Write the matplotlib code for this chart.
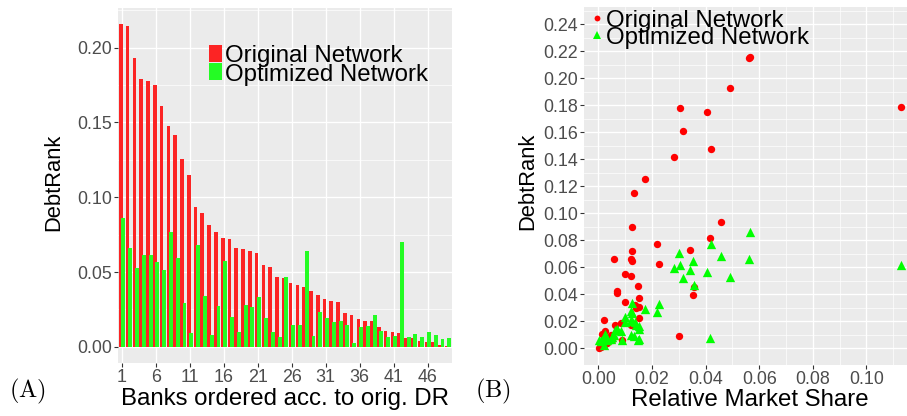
import matplotlib
matplotlib.use('Agg')
import matplotlib.pyplot as plt
import numpy as np
from matplotlib.patches import Rectangle

plt.rcParams['font.family'] = ['Liberation Sans', 'DejaVu Sans']
plt.rcParams['mathtext.fontset'] = 'cm'

# ---------------- data ----------------
banks = list(range(1, 50))
dr_original = [0.2157, 0.2148, 0.1929, 0.1789, 0.1775, 0.1749, 0.1609, 0.1476, 0.1416, 0.1256,
               0.1150, 0.0937, 0.0897, 0.0817, 0.0770, 0.0730, 0.0723, 0.0663, 0.0657, 0.0644,
               0.0624, 0.0550, 0.0537, 0.0464, 0.0457, 0.0424, 0.0411, 0.0397, 0.0371, 0.0344,
               0.0317, 0.0304, 0.0297, 0.0224, 0.0211, 0.0184, 0.0171, 0.0171, 0.0131, 0.0104,
               0.0098, 0.0091, 0.0058, 0.0058, 0.0038, 0.0031, 0.0031, 0.0011, 0.0004]
dr_optimized = [0.0863, 0.0664, 0.0530, 0.0617, 0.0617, 0.0564, 0.0517, 0.0770, 0.0593, 0.0291,
                0.0091, 0.0684, 0.0337, 0.0078, 0.0271, 0.0577, 0.0198, 0.0098, 0.0277, 0.0264,
                0.0331, 0.0191, 0.0098, 0.0064, 0.0470, 0.0144, 0.0144, 0.0644, 0.0071, 0.0231,
                0.0191, 0.0164, 0.0171, 0.0144, 0.0024, 0.0131, 0.0138, 0.0211, 0.0104, 0.0064,
                0.0071, 0.0703, 0.0064, 0.0084, 0.0064, 0.0098, 0.0078, 0.0051, 0.0058]
market_share = [0.0565, 0.0560, 0.0491, 0.1129, 0.0305, 0.0404, 0.0317, 0.0421, 0.0283, 0.0175,
                0.0133, 0.0458, 0.0124, 0.0415, 0.0218, 0.0342, 0.0125, 0.0057, 0.0121, 0.0124,
                0.0227, 0.0098, 0.0123, 0.0148, 0.0358, 0.0069, 0.0071, 0.0352, 0.0150, 0.0100,
                0.0138, 0.0150, 0.0140, 0.0150, 0.0022, 0.0085, 0.0063, 0.0120, 0.0026, 0.0014,
                0.0045, 0.0300, 0.0086, 0.0050, 0.0030, 0.0026, 0.0020, 0.0010, 0.0002]
bank_ticks = [1, 6, 11, 16, 21, 26, 31, 36, 41, 46]
left_yticks = [0.00, 0.05, 0.10, 0.15, 0.20]
right_xticks = [0.00, 0.02, 0.04, 0.06, 0.08, 0.10]
right_yticks = [0.00, 0.02, 0.04, 0.06, 0.08, 0.10, 0.12, 0.14, 0.16, 0.18, 0.20, 0.22, 0.24]
series_labels = ['Original Network', 'Optimized Network']

# ---------------- style ----------------
W, H = 907, 416
BG = '#EBEBEB'
RED_BAR, GREEN_BAR = '#FC2424', '#24FC24'
RED_PT, GREEN_PT = '#FF0000', '#00FF00'
TICK_COL, LAB_COL = '#333333', '#4D4D4D'
TICK_FS, XT_FS, YT_FS, LEG_FS = 12.9, 17.3, 15.8, 17.3

fig = plt.figure(figsize=(W / 100, H / 100), dpi=100)


def px_axes(l, t, r, b):
    return fig.add_axes([l / W, 1 - b / H, (r - l) / W, (b - t) / H])


def style(ax):
    ax.set_facecolor(BG)
    for s in ax.spines.values():
        s.set_visible(False)
    ax.set_axisbelow(True)
    ax.grid(which='major', color='white', linewidth=0.95)
    ax.grid(which='minor', color='white', linewidth=0.5)
    ax.tick_params(which='major', length=3, width=0.8, color=TICK_COL, pad=1.3,
                   labelsize=TICK_FS, labelcolor=LAB_COL)
    ax.tick_params(which='minor', length=0)


# ---------------- panel A ----------------
ax1 = px_axes(118, 8, 452, 363)
style(ax1)
x = np.array(banks, dtype=float)
ax1.bar(x - 0.18, dr_original, width=0.54, color=RED_BAR, linewidth=0)
ax1.bar(x + 0.20, dr_optimized, width=0.58, color=GREEN_BAR, linewidth=0)
ax1.set_xlim(0.4, 49.6)
ax1.set_ylim(-0.0108, 0.2265)
ax1.set_xticks(bank_ticks)
ax1.set_xticklabels([str(b) for b in bank_ticks])
ax1.set_yticks(left_yticks)
ax1.set_yticklabels([f'{v:.2f}' for v in left_yticks])
ax1.set_yticks(np.arange(0.025, 0.23, 0.05), minor=True)
ax1.grid(which='minor', axis='x', visible=False)
ax1.set_xlabel('Banks ordered acc. to orig. DR', fontsize=XT_FS, va='baseline')
ax1.xaxis.set_label_coords(0.5, (363 - 405) / 355)
ax1.set_ylabel('DebtRank', fontsize=YT_FS, va='center')
ax1.yaxis.set_label_coords((54 - 118) / 334, 0.51)

# legend A
for i, (lab, col) in enumerate(zip(series_labels, [RED_BAR, GREEN_BAR])):
    top = 45 + i * 18
    ax1.add_patch(Rectangle(((209 - 118) / 334, (363 - top - 17) / 355), 13 / 334, 17 / 355,
                            transform=ax1.transAxes, color=col, linewidth=0, clip_on=False))
    ax1.text((225 - 118) / 334, (363 - (62.3 + i * 18.4)) / 355, lab, transform=ax1.transAxes,
             fontsize=LEG_FS, ha='left', va='baseline', color='black')

# ---------------- panel B ----------------
ax2 = px_axes(584, 7, 916, 365)
style(ax2)
ax2.scatter(market_share, dr_original, s=28, marker='o', color=RED_PT, linewidths=0, zorder=3)
ax2.scatter(market_share, dr_optimized, s=45, marker='^', color=GREEN_PT, linewidths=0, zorder=4)
ax2.set_xlim(-0.0054, 0.1185)
ax2.set_ylim(-0.0124, 0.2526)
ax2.set_xticks(right_xticks)
ax2.set_xticklabels([f'{v:.2f}' for v in right_xticks])
ax2.set_xticks(np.arange(0.01, 0.12, 0.02), minor=True)
ax2.set_yticks(right_yticks)
ax2.set_yticklabels([f'{v:.2f}' for v in right_yticks])
ax2.set_yticks(np.arange(0.01, 0.26, 0.02), minor=True)
ax2.set_xlabel('Relative Market Share', fontsize=XT_FS, va='baseline')
ax2.xaxis.set_label_coords(0.5, (365 - 405.5) / 358)
ax2.set_ylabel('DebtRank', fontsize=YT_FS, va='center')
ax2.yaxis.set_label_coords((528 - 584) / 332, 0.512)

# legend B
kx = (596.7 - 584) / 332
ax2.plot([kx], [(365 - 18.3) / 358], 'o', ms=4.2, color=RED_PT, mew=0,
         transform=ax2.transAxes, clip_on=False)
ax2.plot([kx], [(365 - 34.5) / 358], '^', ms=5.2, color=GREEN_PT, mew=0,
         transform=ax2.transAxes, clip_on=False)
for i, lab in enumerate(series_labels):
    ax2.text((606 - 584) / 332, (365 - (26.7 + i * 17.6)) / 358, lab, transform=ax2.transAxes,
             fontsize=LEG_FS, ha='left', va='baseline', color='black')

# panel letters
fig.text(9 / W, 1 - 397 / H, r'$\mathrm{(A)}$', fontsize=17.5, ha='left', va='baseline')
fig.text(475 / W, 1 - 397 / H, r'$\mathrm{(B)}$', fontsize=17.5, ha='left', va='baseline')

fig.savefig('out.png', dpi=100)
